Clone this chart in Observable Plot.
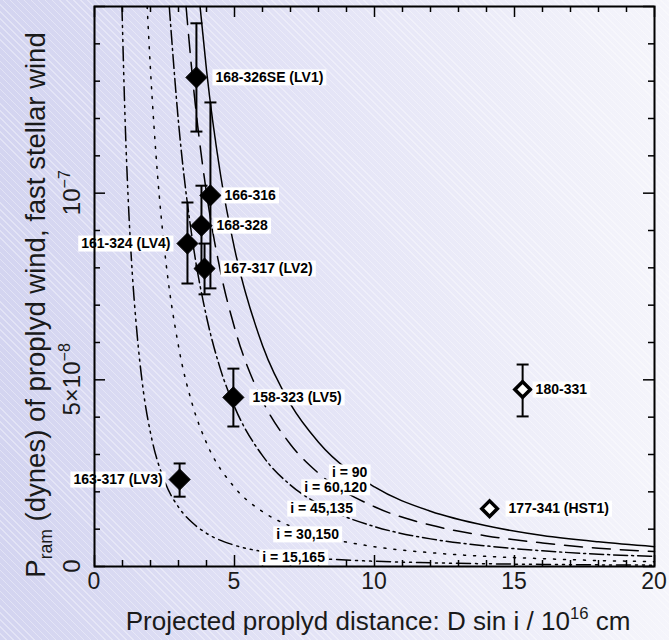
<!DOCTYPE html>
<html><head><meta charset="utf-8">
<script src="https://cdn.jsdelivr.net/npm/d3@7"></script>
<script src="https://cdn.jsdelivr.net/npm/@observablehq/plot@0.6"></script>
<style>
html,body{margin:0;padding:0;}
body{width:669px;height:640px;overflow:hidden;
 background:
  repeating-linear-gradient(45deg, rgba(255,255,255,0) 0px, rgba(255,255,255,0) 4px, rgba(255,255,255,0.35) 4px, rgba(255,255,255,0.35) 5px),
  linear-gradient(to right,#d3d4f0 0%,#e3e3f6 45%,#f5f5fb 100%);}
#chart svg{display:block;}
</style></head><body><div id="chart"></div>
<script>
// ---- Data (pressure in units of 1e-8 dynes, distance in 1e16 cm) ----
const names  = ["168-326SE (LV1)","166-316","168-328","161-324 (LV4)","167-317 (LV2)","158-323 (LV5)","163-317 (LV3)","180-331","177-341 (HST1)"];
const xs     = [3.64, 4.14, 3.82, 3.32, 3.93, 4.96, 3.04, 15.29, 14.11];
const ys     = [13.1, 9.94, 9.13, 8.65, 7.98, 4.53, 2.33, 4.74, 1.55];
const yLo    = [11.65, 7.45, 8.05, 7.58, 7.29, 3.75, 1.87, 4.02, null];
const yHi    = [14.55, 12.43, 10.2, 9.75, 8.65, 5.30, 2.76, 5.41, null];
const filled = [true, true, true, true, true, true, true, false, false];
const side   = ["right","right","right","left","right","right","left","right","right"];

// model curves
const curve90X = [3.77, 4.0, 4.5, 5.0, 6.0, 7.0, 8.0, 10.0, 12.0, 14.0, 16.0, 18.0, 20.0];
const curve90Y = [15.0, 13.3, 10.5, 8.52, 5.92, 4.35, 3.33, 2.13, 1.48, 1.09, 0.83, 0.66, 0.53];
const curve60X = [3.27, 3.5, 4.0, 4.5, 5.0, 6.0, 7.0, 8.0, 10.0, 12.0, 14.0, 16.0, 18.0, 20.0];
const curve60Y = [15.0, 13.1, 10.0, 7.9, 6.4, 4.44, 3.27, 2.5, 1.6, 1.11, 0.82, 0.63, 0.49, 0.40];
const curve45X = [2.67, 3.0, 3.5, 4.0, 4.5, 5.0, 6.0, 7.0, 8.0, 10.0, 12.0, 14.0, 16.0, 18.0, 20.0];
const curve45Y = [15.0, 11.9, 8.73, 6.69, 5.28, 4.28, 2.97, 2.18, 1.67, 1.07, 0.74, 0.55, 0.42, 0.33, 0.27];
const curve30X = [1.88, 2.0, 2.25, 2.5, 3.0, 3.5, 4.0, 5.0, 6.0, 7.0, 8.0, 10.0, 12.0, 14.0, 16.0, 18.0, 20.0];
const curve30Y = [15.0, 13.3, 10.5, 8.5, 5.9, 4.33, 3.31, 2.12, 1.47, 1.08, 0.83, 0.53, 0.37, 0.27, 0.21, 0.16, 0.13];
const curve15X = [0.98, 1.1, 1.2, 1.35, 1.5, 1.75, 2.0, 2.5, 3.0, 3.5, 4.0, 5.0, 6.0, 8.0, 10.0, 12.0, 14.0, 16.0, 18.0, 20.0];
const curve15Y = [15.0, 11.8, 9.9, 7.85, 6.4, 4.67, 3.58, 2.29, 1.59, 1.17, 0.89, 0.57, 0.40, 0.22, 0.14, 0.10, 0.073, 0.056, 0.044, 0.036];

const curveLabels = ["i = 90","i = 60,120","i = 45,135","i = 30,150","i = 15,165"];
const curveLabelX = [9.11, 8.61, 8.11, 7.61, 7.11];
const curveLabelY = [2.52, 2.12, 1.55, 0.86, 0.24];

const xTickValues = [0, 5, 10, 15, 20];
const xTickLabels = ["0", "5", "10", "15", "20"];
const yTickValues = [0, 5, 10];
const yTickLabels = ["0", "5×10^−8", "10^−7"];

// ---- Layout ----
const W = 669, H = 640;
const M = {left: 94, right: 15, top: 6, bottom: 74};
const innerW = W - M.left - M.right, innerH = H - M.top - M.bottom;
const labelDx = {"166-316": 14, "168-328": 15, "180-331": 13};
const FONT = "'Liberation Sans', Arial, sans-serif";

const rows = names.map((n, k) => ({name: n, x: xs[k], y: ys[k], lo: yLo[k], hi: yHi[k], filled: filled[k], side: side[k]}));
const errRows = rows.filter(d => d.lo != null);
const caps = errRows.flatMap(d => [{x: d.x, y: d.lo}, {x: d.x, y: d.hi}]);
const capSymbol = {draw(ctx) { ctx.moveTo(-6, 0); ctx.lineTo(6, 0); }};

const curves = [
  {X: curve90X, Y: curve90Y, dash: null},
  {X: curve60X, Y: curve60Y, dash: "18,10"},
  {X: curve45X, Y: curve45Y, dash: "14,4,2,4"},
  {X: curve30X, Y: curve30Y, dash: "2,8"},
  {X: curve15X, Y: curve15Y, dash: "14,5,2,5,2,5,2,5"}
];
const curveMarks = curves.map(c => Plot.line(c.X.map((x, k) => ({x, y: c.Y[k]})), {
  x: "x", y: "y", curve: "monotone-x", stroke: "#000", strokeWidth: 1.5,
  strokeDasharray: c.dash || undefined
}));

const rightGroups = d3.groups(rows.filter(d => d.side === "right"), d => labelDx[d.name] ?? 19);
const labelMarks = rightGroups.map(([dx, g]) => Plot.text(g, {
  x: "x", y: "y", text: "name", dx, textAnchor: "start",
  fontFamily: FONT, fontSize: 14, fontWeight: "bold", fill: "#000"
}));
labelMarks.push(Plot.text(rows.filter(d => d.side === "left"), {
  x: "x", y: "y", text: "name", dx: -17, textAnchor: "end",
  fontFamily: FONT, fontSize: 14, fontWeight: "bold", fill: "#000"
}));

const xMinor = d3.range(0, 21).filter(v => v % 5 !== 0);
const xMajor = d3.range(0, 21, 5);
const yMinor = d3.range(0, 16).filter(v => v % 5 !== 0);
const yMajor = d3.range(0, 16, 5);
const tk = {stroke: "#000", strokeWidth: 1.5};

const plot = Plot.plot({
  width: W, height: H,
  marginLeft: M.left, marginRight: M.right, marginTop: M.top, marginBottom: M.bottom,
  x: {domain: [0, 20], axis: null},
  y: {domain: [0, 15], axis: null},
  style: {background: "transparent", overflow: "visible"},
  marks: [
    ...curveMarks,
    Plot.tickX(xMinor, {x: d => d, ...tk, insetTop: innerH - 6}),
    Plot.tickX(xMajor, {x: d => d, ...tk, insetTop: innerH - 11}),
    Plot.tickX(xMinor, {x: d => d, ...tk, insetBottom: innerH - 6}),
    Plot.tickX(xMajor, {x: d => d, ...tk, insetBottom: innerH - 11}),
    Plot.tickY(yMinor, {y: d => d, ...tk, insetRight: innerW - 6}),
    Plot.tickY(yMajor, {y: d => d, ...tk, insetRight: innerW - 11}),
    Plot.tickY(yMinor, {y: d => d, ...tk, insetLeft: innerW - 6}),
    Plot.tickY(yMajor, {y: d => d, ...tk, insetLeft: innerW - 11}),
    Plot.text(curveLabels.map((t, k) => ({t, x: curveLabelX[k], y: curveLabelY[k]})), {
      x: "x", y: "y", text: "t", fontFamily: FONT, fontSize: 14, fontWeight: "bold", fill: "#000"
    }),
    Plot.ruleX(errRows, {x: "x", y1: "lo", y2: "hi", stroke: "#000", strokeWidth: 2}),
    Plot.dot(caps, {x: "x", y: "y", symbol: capSymbol, stroke: "#000", strokeWidth: 2}),
    Plot.dot(rows.filter(d => d.filled), {x: "x", y: "y", symbol: "diamond2", r: 9.5, fill: "#000", stroke: "#000", strokeWidth: 1}),
    Plot.dot(rows.filter(d => !d.filled), {x: "x", y: "y", symbol: "diamond2", r: 7, fill: "#fff", stroke: "#000", strokeWidth: 3.5}),
    ...labelMarks,
    Plot.frame({stroke: "#000", strokeWidth: 2})
  ]
});
document.getElementById("chart").appendChild(plot);

// white boxes behind labels
d3.select(plot).selectAll('g[aria-label="text"] text').each(function() {
  const b = this.getBBox();
  const r = document.createElementNS("http://www.w3.org/2000/svg", "rect");
  r.setAttribute("x", b.x - 3); r.setAttribute("y", b.y + 0.5);
  r.setAttribute("width", b.width + 6); r.setAttribute("height", b.height);
  r.setAttribute("fill", "#fff");
  const tr = this.getAttribute("transform"); if (tr) r.setAttribute("transform", tr);
  this.parentNode.insertBefore(r, this);
});

// axis labels (with superscripts)
const sx = plot.scale("x"), sy = plot.scale("y");
const svg = d3.select(plot);
const axisG = svg.append("g").attr("font-family", FONT).attr("fill", "#1a1a1a");
function rich(g, str, size, supSize, supShift) {
  const parts = str.split("^");
  g.append("tspan").text(parts[0]).attr("font-size", size);
  if (parts[1]) g.append("tspan").text(parts[1]).attr("font-size", supSize).attr("dy", -supShift);
}
xTickValues.forEach((v, k) => {
  axisG.append("text").attr("x", sx.apply(v)).attr("y", 589).attr("text-anchor", "middle")
    .attr("font-size", 23).text(xTickLabels[k]);
});
yTickValues.forEach((v, k) => {
  const t = axisG.append("text").attr("transform", `translate(80,${sy.apply(v)}) rotate(-90)`).attr("text-anchor", "middle");
  rich(t, yTickLabels[k], 24, 16, 10);
});
function fitWidth(textSel, target) {
  const w = textSel.node().getComputedTextLength();
  textSel.attr("textLength", target).attr("lengthAdjust", "spacingAndGlyphs");
}
// x title
{
  const t = axisG.append("text").attr("x", 378).attr("y", 630).attr("text-anchor", "middle").attr("font-size", 25);
  t.append("tspan").text("Projected proplyd distance: D sin i / 10");
  t.append("tspan").text("16").attr("font-size", 16).attr("dy", -11);
  t.append("tspan").text(" cm").attr("dy", 11);
  const w = t.node().getBBox().width;
  t.attr("font-size", 25 * 505 / w);
  t.selectAll("tspan").filter((d, i) => i === 1).attr("font-size", 16 * 505 / w);
}
// y title
{
  const t = axisG.append("text").attr("transform", "translate(45,305) rotate(-90)").attr("text-anchor", "middle").attr("font-size", 25);
  t.append("tspan").text("P");
  t.append("tspan").text("ram").attr("font-size", 16).attr("dy", 7);
  t.append("tspan").text(" (dynes) of proplyd wind, fast stellar wind").attr("dy", -7);
  const w = t.node().getBBox().width;
  const s = Math.min(1.1, 565 / w);
  t.attr("font-size", 25 * s);
  t.selectAll("tspan").filter((d, i) => i === 1).attr("font-size", 16 * s);
}
</script></body></html>
